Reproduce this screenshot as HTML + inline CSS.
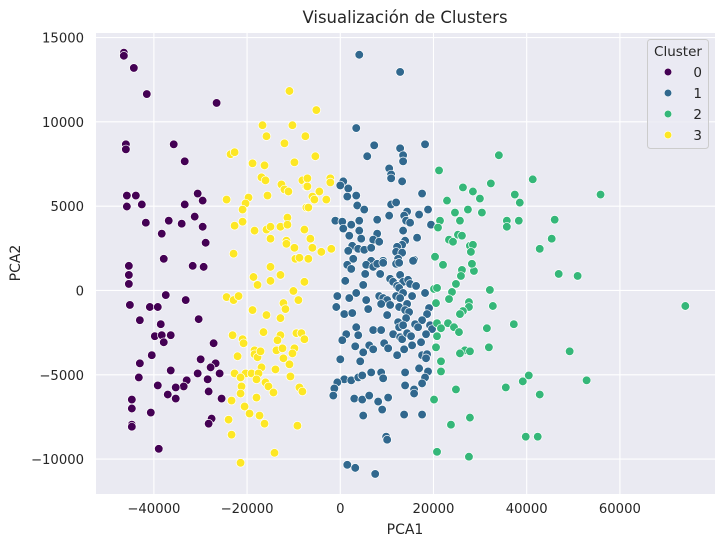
<!DOCTYPE html>
<html><head><meta charset="utf-8"><style>
body{margin:0;background:#fff;font-family:"Liberation Sans","DejaVu Sans",sans-serif;}
svg text{font-family:"DejaVu Sans","Liberation Sans",sans-serif;fill:#262626;}
</style></head><body>
<svg id="chart" width="724" height="547" xmlns="http://www.w3.org/2000/svg">
<rect x="96" y="33" width="619" height="461" fill="#eaeaf2"/>
<g id="grid"></g><g id="pts"></g><g id="ticks"></g>
<text x="405" y="23" text-anchor="middle" font-size="16.5">Visualización de Clusters</text>
<text x="405" y="534" text-anchor="middle" font-size="14">PCA1</text>
<text x="20" y="263" text-anchor="middle" font-size="14" transform="rotate(-90 20 263)">PCA2</text>
<g>
<rect x="647.5" y="39.5" width="61" height="109" rx="3" fill="#eaeaf2" fill-opacity="0.8" stroke="#cccccc"/>
<text x="678" y="56" text-anchor="middle" font-size="13.5">Cluster</text>
<g id="legitems"></g>
</g>
</svg>
<script>
const xTicks=[-40000,-20000,0,20000,40000,60000];
const yTicks=[-10000,-5000,0,5000,10000,15000];
const clusterNames=["0","1","2","3"];
const clusterColors=["#440154","#31688e","#35b779","#fde725"];
const c0x=[-46440,-46440,-44300,-41520,-26540,-46010,-46010,-35740,-33380,-45800,-43870,-45800,-42590,-30600,-29530,-33380,-41730,-36810,-34030,-31240,-29530,-38310,-28890,-37880,-45370,-45370,-45370,-31670,-29320,-37450,-33170,-45150,-40870,-39160,-43010,-38520,-30390,-39800,-38310,-36380,-37880,-27180,-40450,-43010,-29960,-26750,-27820,-36380,-25890,-30600,-43230,-32960,-28460,-39160,-33600,-35310,-28250,-37020,-35310,-25470,-44730,-44730,-40660,-27610,-28250,-44730,-44730,-38950];
const c0y=[14100,13920,13200,11650,11120,8670,8370,8670,7660,5630,5630,4980,5100,5750,5330,5100,4020,4140,3960,4380,3780,3370,2830,1880,1460,920,390,1460,1400,-270,-570,-860,-980,-980,-1760,-2000,-1700,-2710,-2650,-2650,-3070,-3130,-3840,-4320,-4080,-4320,-4560,-4740,-4920,-4920,-5160,-5330,-5270,-5630,-5690,-5750,-5990,-6170,-6410,-6410,-6470,-7000,-7240,-7600,-7900,-7960,-8080,-9390];
const c3x=[-10910,-16690,-10270,-15840,-11980,-7490,-23540,-22680,-18830,-16260,-9840,-16910,-16050,-12630,-11980,-11130,-8130,-7280,-15620,-24400,-19690,-20330,-20970,-7280,-20970,-22680,-18400,-15840,-14980,-12840,-11340,-11340,-14980,-11560,-11560,-9840,-7700,-22900,-9630,-8770,-5140,-5350,-7060,-7060,-2140,-2140,-4490,-5990,-5560,-3000,-6850,-6420,-5990,-4070,-1930,-6850,-14980,-18620,-17760,-14980,-12840,-7700,-24400,-22900,-21830,-10060,-12200,-11770,-8990,-18830,-15840,-12840,-16480,-23110,-20970,-20760,-12840,-13480,-9420,-8350,-7700,-18400,-18400,-17760,-17120,-13700,-12410,-9840,-10270,-22040,-12200,-10910,-16910,-13910,-22680,-20330,-19050,-17550,-21400,-17980,-16050,-15410,-10700,-21190,-21400,-14340,-8770,-8130,-17980,-23330,-20540,-19470,-17330,-16260,-23970,-9200,-23330,-14120,-21400];
const c3y=[11830,9800,9800,9150,8730,9150,8080,8200,7540,7420,7600,6710,6530,6290,5990,5870,6530,6170,5630,5390,5510,5160,4800,4920,4080,3840,3550,3610,3780,3780,4320,3900,3070,2950,2770,2530,3610,2180,1880,1940,10700,7960,6650,6170,6650,6410,5870,5570,5390,5390,4920,3070,2530,2290,2470,1880,1400,800,330,570,920,510,-390,-570,-330,-30,-750,-1100,-570,-1160,-1460,-1640,-2470,-2650,-2890,-3130,-2650,-2950,-2530,-2530,-2890,-3550,-3780,-3960,-3610,-3550,-3430,-3430,-3730,-3900,-4020,-4380,-4560,-4680,-4920,-4920,-4920,-4920,-5160,-5270,-5450,-5690,-5100,-5690,-6110,-6050,-5750,-5990,-6350,-6530,-6880,-7300,-7420,-7900,-7660,-8020,-8550,-9630,-10220];
const c1x=[4070,12840,3420,7280,5780,12840,13480,13480,18190,10490,10910,10910,13270,640,0,1710,1500,3420,17550,3640,5140,10910,11980,18830,14340,10490,13700,16910,7920,-1070,430,2350,4070,4070,640,14120,14980,19470,13480,7920,1930,4490,16480,7060,8350,13910,13270,12200,2570,1710,3850,5140,6630,11980,13270,2780,9200,6630,12410,15840,1500,2350,5560,7060,7920,9200,11980,12630,15620,5350,8560,12840,1070,4920,10700,11340,13480,14550,14980,16260,12200,12630,-640,3420,1930,5560,8350,9200,10060,11980,13480,15410,12840,18190,8770,10700,5990,-860,860,2570,12630,14340,13910,14770,19050,18620,10060,14120,12410,17550,12630,13480,16050,16690,19260,19690,3420,7060,8770,1280,3850,11340,12840,13270,14340,15190,18400,430,3210,6210,7060,9420,10270,13700,15410,17330,4920,17550,18620,18400,12200,0,4280,16910,18830,6630,8770,9200,13910,860,2350,3850,4710,18190,-640,-1280,-1500,17550,13910,15840,15840,3000,4710,6210,8130,10270,8990,4920,13700,17550,9840,10060,1500,3210,7490];
const c1y=[13980,12960,9630,8610,7960,8430,8020,7660,8670,7240,6880,6650,6470,6470,6230,6050,5570,5630,5750,5040,4800,5100,5220,4800,4680,4440,4440,4500,4200,4140,4080,3900,4140,3550,3670,4140,4020,3900,3550,3370,3250,3070,3130,3010,2890,2950,2710,2590,2650,2350,2470,2410,2530,2290,2240,1880,1760,1760,1880,1820,1520,1280,1520,1400,1580,1640,1580,1640,1760,980,980,920,570,330,690,510,510,630,390,270,270,150,-330,-150,-450,-570,-330,-450,-570,-330,-150,-330,-450,-150,-800,-860,-1100,-980,-1400,-1340,-980,-800,-1160,-1280,-1040,-1400,-1460,-1640,-1880,-1760,-2180,-2060,-2000,-2180,-2060,-2290,-2180,-2350,-2350,-2590,-2650,-2590,-2770,-2890,-2530,-2710,-2590,-2950,-3310,-3250,-3490,-3130,-3430,-3490,-3250,-3070,-3670,-3840,-3780,-4020,-3840,-4080,-4200,-4620,-4800,-4860,-4860,-5210,-4860,-5270,-5330,-5160,-5040,-5160,-5450,-5810,-6230,-5510,-5630,-5870,-6110,-6410,-6470,-6230,-6590,-6350,-7060,-7420,-7360,-7360,-8670,-8850,-10340,-10520,-10880];
const c2x=[34030,21190,32310,26320,28460,29960,22900,27390,24610,30390,35740,35740,21400,25680,20970,23330,24180,25250,26110,27820,28460,28030,20330,41300,55850,37450,38520,38310,46010,45370,42800,46870,50930,74040,37240,49220,40450,39160,52860,42800,39800,42370,22040,26110,28680,28250,25890,24820,20120,20760,23970,23330,32100,20540,27610,27610,26320,25680,32740,20760,21610,23110,24400,25470,31460,20760,20540,26750,27820,25680,31890,21610,21610,24820,35520,20120,27820,23750,20760,27610];
const c2y=[8020,7120,6350,6110,5870,5450,5330,4800,4620,4620,4140,3780,4140,4140,3730,3010,2890,3310,3250,2650,2710,2290,2000,6590,5690,5690,5210,4140,4200,3070,2470,980,860,-920,-2000,-3610,-5040,-5390,-5330,-6170,-8670,-8670,1520,1220,1160,1580,860,390,90,150,-90,-510,30,-750,-690,-980,-1220,-1400,-920,-1940,-2240,-1940,-2180,-2470,-2240,-2710,-3370,-3550,-3610,-3730,-3370,-4200,-4800,-5870,-5750,-6470,-7540,-7960,-9570,-9860];

const X0=96,X1=715,Y0=33,Y1=494;
const xMin=-52420,xMax=80410,yMin=-12070,yMax=15270;
function sx(v){return X0+(v-xMin)/(xMax-xMin)*(X1-X0);}
function sy(v){return Y1-(v-yMin)/(yMax-yMin)*(Y1-Y0);}
const NS="http://www.w3.org/2000/svg";
function mk(tag,attrs,parent){const e=document.createElementNS(NS,tag);for(const k in attrs)e.setAttribute(k,attrs[k]);parent.appendChild(e);return e;}
const grid=document.getElementById('grid'),ticks=document.getElementById('ticks'),pts=document.getElementById('pts');
function fmt(v){return (v<0?"\u2212":"")+Math.abs(v);}
xTicks.forEach(t=>{
  const l=mk('line',{x1:sx(t),x2:sx(t),y1:Y0,y2:Y1,stroke:'#fff','stroke-width':1.1},grid);
  
  
  const tx=mk('text',{x:sx(t),y:Y1+19,'text-anchor':'middle','font-size':13.2},ticks);
  tx.textContent=fmt(t);
  
  
});
yTicks.forEach(t=>{
  const l=mk('line',{x1:X0,x2:X1,y1:sy(t),y2:sy(t),stroke:'#fff','stroke-width':1.1},grid);
  
  
  const tx=mk('text',{x:X0-12,y:sy(t)+5,'text-anchor':'end','font-size':13.2},ticks);
  tx.textContent=fmt(t);
  
  
});
const series=[[c0x,c0y],[c1x,c1y],[c2x,c2y],[c3x,c3y]];
series.forEach((s,ci)=>{
  const g=mk('g',{},pts);
  
  
  for(let i=0;i<s[0].length;i++){
    const c=mk('circle',{cx:sx(s[0][i]),cy:sy(s[1][i]),r:4.3,fill:clusterColors[ci],stroke:'#fff','stroke-width':0.7},g);
    
    
  }
});
const leg=document.getElementById('legitems');
clusterNames.forEach((n,i)=>{
  const y=72+i*21;
  const g=mk('g',{},leg);
  
  
  mk('circle',{cx:668,cy:y,r:3.8,fill:clusterColors[i],stroke:'#fff','stroke-width':0.6},g);
  const t=mk('text',{x:702,y:y+5,'text-anchor':'end','font-size':13.5},g);
  t.textContent=n;
});
</script>
</body></html>
